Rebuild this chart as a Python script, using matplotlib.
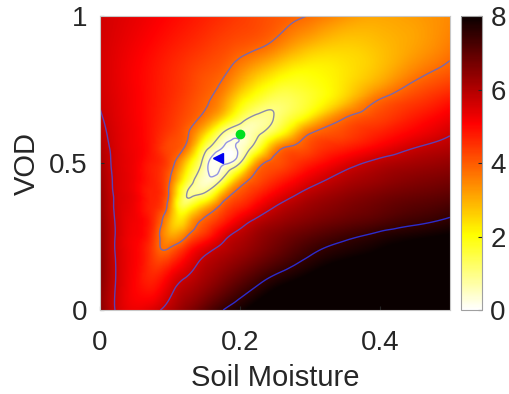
import numpy as np
import matplotlib.pyplot as plt
import matplotlib.tri as mtri

plt.rcParams['font.family'] = ['Liberation Sans', 'DejaVu Sans']

# grid
sm = [0, 0.025, 0.05, 0.075, 0.1, 0.125, 0.15, 0.175, 0.2, 0.225, 0.25, 0.275, 0.3, 0.35, 0.4, 0.45, 0.5]
vod = [0, 0.1, 0.2, 0.25, 0.3, 0.35, 0.4, 0.45, 0.5, 0.55, 0.6, 0.65, 0.7, 0.75, 0.8, 0.9, 1.0]

cost_000 = [6.5, 5.6, 5.27, 5.5, 5.98, 6.48, 6.98, 7.48, 7.86, 8.23, 8.6, 8.9, 9.2, 9.75, 10.2, 10.6, 11.0]
cost_010 = [6.5, 5.62, 5.05, 4.72, 5.3, 5.82, 6.2, 6.58, 6.97, 7.35, 7.7, 7.95, 8.2, 8.7, 9.15, 9.6, 10.0]
cost_020 = [6.5, 5.6, 5.1, 4.35, 4.0, 4.85, 5.54, 5.93, 6.22, 6.52, 6.82, 7.12, 7.4, 7.75, 8.02, 8.27, 8.5]
cost_025 = [6.46, 5.6, 5.15, 4.45, 3.2, 3.85, 4.63, 5.45, 5.95, 6.3, 6.58, 6.82, 7.03, 7.38, 7.67, 7.88, 8.05]
cost_030 = [6.42, 5.6, 5.2, 4.6, 2.95, 2.9, 4.03, 4.68, 5.38, 5.9, 6.2, 6.42, 6.6, 6.9, 7.15, 7.4, 7.62]
cost_035 = [6.38, 5.58, 5.2, 4.65, 3.3, 1.69, 2.9, 4.07, 4.65, 5.2, 5.72, 6.05, 6.28, 6.6, 6.86, 7.08, 7.28]
cost_040 = [6.33, 5.57, 5.2, 4.7, 3.6, 0.97, 0.99, 2.8, 4.07, 4.58, 5.08, 5.52, 5.88, 6.3, 6.58, 6.78, 6.95]
cost_045 = [6.24, 5.55, 5.2, 4.72, 3.84, 1.75, 0.43, 0.93, 2.9, 4.08, 4.5, 4.9, 5.32, 5.92, 6.25, 6.48, 6.65]
cost_050 = [6.15, 5.52, 5.2, 4.75, 4.15, 2.45, 0.65, 0.22, 1.0, 3.3, 4.08, 4.42, 4.74, 5.4, 5.9, 6.15, 6.35]
cost_055 = [6.02, 5.5, 5.2, 4.78, 4.2, 3.5, 1.3, 0.27, 0.4, 1.55, 3.35, 3.99, 4.24, 4.74, 5.23, 5.72, 6.0]
cost_060 = [5.88, 5.47, 5.18, 4.8, 4.35, 3.86, 2.5, 0.95, 0.44, 0.88, 1.68, 2.74, 3.8, 4.26, 4.73, 5.19, 5.65]
cost_065 = [5.77, 5.43, 5.15, 4.83, 4.48, 4.1, 3.52, 2.46, 1.35, 0.8, 1.05, 1.69, 2.45, 3.85, 4.33, 4.82, 5.3]
cost_070 = [5.68, 5.4, 5.13, 4.85, 4.55, 4.22, 3.87, 3.25, 2.12, 1.47, 1.15, 1.34, 1.73, 2.89, 3.99, 4.47, 4.94]
cost_075 = [5.62, 5.37, 5.12, 4.86, 4.6, 4.32, 4.01, 3.61, 2.78, 2.11, 1.67, 1.58, 1.76, 2.41, 3.35, 4.06, 4.5]
cost_080 = [5.6, 5.35, 5.1, 4.87, 4.62, 4.37, 4.11, 3.87, 3.31, 2.73, 2.28, 1.99, 1.99, 2.33, 2.89, 3.63, 4.1]
cost_090 = [5.6, 5.4, 5.2, 5.0, 4.8, 4.62, 4.44, 4.26, 4.08, 3.91, 3.61, 3.2, 2.88, 2.61, 2.81, 3.15, 3.6]
cost_100 = [5.62, 5.48, 5.34, 5.18, 5.02, 4.86, 4.7, 4.54, 4.38, 4.22, 4.07, 3.92, 3.76, 3.32, 3.1, 3.22, 3.45]

# extra samples along the valley floor and the two inner rings
valley_sm = [0.09, 0.112, 0.118, 0.131, 0.137, 0.142, 0.155, 0.163, 0.172, 0.183, 0.195,
             0.215, 0.237, 0.267, 0.2875, 0.31, 0.37,
             0.155, 0.195, 0.136, 0.145, 0.155, 0.215, 0.23, 0.21, 0.246]
valley_vod = [0.2, 0.3, 0.35, 0.385, 0.4, 0.425, 0.475, 0.5, 0.525, 0.55, 0.575,
              0.625, 0.675, 0.75, 0.8, 0.85, 0.95,
              0.5, 0.55, 0.45, 0.5, 0.55, 0.55, 0.6, 0.65, 0.68]
valley_cost = [3.85, 2.4, 1.55, 1.0, 0.82, 0.6, 0.28, 0.1, 0.05, 0.1, 0.28,
               0.6, 0.97, 1.55, 1.95, 2.3, 2.88,
               0.3, 0.3, 1.0, 1.0, 1.0, 1.0, 1.0, 1.0, 1.0]

levels = [0.3, 1.0, 3.8, 5.7, 7.5]
level_colors = ['#9494e4', '#8c8caa', '#7a68ac', '#5c40b4', '#2c2ccc']

true_point = (0.2, 0.6)
retrieved_point = (0.169, 0.517)

Z = np.array([cost_000, cost_010, cost_020, cost_025, cost_030, cost_035, cost_040, cost_045,
              cost_050, cost_055, cost_060, cost_065, cost_070, cost_075, cost_080, cost_090,
              cost_100])
X, Y = np.meshgrid(sm, vod)

px = np.concatenate([X.ravel(), valley_sm])
py = np.concatenate([Y.ravel(), valley_vod])
pz = np.concatenate([Z.ravel(), valley_cost])
triang = mtri.Triangulation(2 * px, py)
interp = mtri.CubicTriInterpolator(triang, pz, kind='min_E')

xf = np.linspace(1e-6, 0.5 - 1e-6, 400)
yf = np.linspace(1e-6, 1 - 1e-6, 400)
XF, YF = np.meshgrid(xf, yf)
ZF = np.ma.filled(interp(2 * XF, YF), 8)

fig = plt.figure(figsize=(5.1, 3.94), dpi=100)
ax = fig.add_axes([0.196, 0.213, 0.686, 0.746])
cax = fig.add_axes([0.904, 0.213, 0.041, 0.746])

im = ax.imshow(ZF, origin='lower', extent=[0, 0.5, 0, 1], cmap='hot_r', vmin=0, vmax=8,
               aspect='auto', interpolation='bilinear')
ax.contour(XF, YF, ZF, levels=levels, colors=level_colors, linewidths=1.0)
ax.plot(*true_point, 'o', color='#00e020', markersize=6)
ax.plot(*retrieved_point, '<', color='#0000f0', markersize=7)

ax.set_xlim(0, 0.5)
ax.set_ylim(0, 1)
ax.set_xticks([0, 0.2, 0.4])
ax.set_xticklabels(['0', '0.2', '0.4'])
ax.set_yticks([0, 0.5, 1])
ax.set_yticklabels(['0', '0.5', '1'])
ax.tick_params(axis='x', pad=14)
ax.tick_params(axis='y', pad=9)
ax.tick_params(direction='in', length=3, labelsize=20, colors='#262626')
ax.set_xlabel('Soil Moisture', fontsize=21, color='#262626', labelpad=6)
ax.set_ylabel('VOD', fontsize=21, color='#262626', labelpad=6)
for s in ax.spines.values():
    s.set_color('#c8c8c8')
    s.set_linewidth(0.8)

cbar = fig.colorbar(im, cax=cax, ticks=[0, 2, 4, 6, 8])
cbar.ax.set_yticklabels(['0', '2', '4', '6', '8'])
cbar.ax.tick_params(direction='in', length=3, labelsize=20, colors='#262626', pad=6)
cbar.outline.set_edgecolor('#a0a0a0')
cbar.outline.set_linewidth(0.8)

fig.savefig('out.png', dpi=100)
